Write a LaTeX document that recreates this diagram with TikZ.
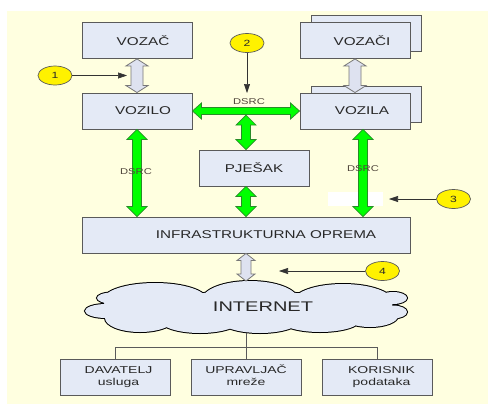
\documentclass[tikz,border=0pt]{standalone}
\usepackage{fontspec}
\setmainfont{Liberation Sans}
\usepackage{graphicx}
\usetikzlibrary{calc,shapes.geometric,arrows.meta}
\definecolor{bg}{RGB}{255,255,224}
\definecolor{boxfill}{RGB}{228,234,246}
\definecolor{boxline}{RGB}{90,90,90}
\definecolor{txt}{RGB}{40,40,40}
\definecolor{grn}{RGB}{0,255,0}
\definecolor{grnline}{RGB}{40,140,40}
\definecolor{garrow}{RGB}{222,226,240}
\definecolor{garrowline}{RGB}{120,120,120}
\definecolor{dsrctxt}{RGB}{80,70,60}
\newcommand\sx[2][1.35]{\scalebox{#1}[1]{#2}}
% style, from, to, shaft half width, head half width, head length
\newcommand\blockarrow[6]{%
  \draw[#1] (#2) -- ($(#2)!#6!(#3)!#5!90:(#3)$) -- ($(#2)!#6!(#3)!#4!90:(#3)$)
    -- ($(#3)!#6!(#2)!#4!-90:(#2)$) -- ($(#3)!#6!(#2)!#5!-90:(#2)$) -- (#3)
    -- ($(#3)!#6!(#2)!#5!90:(#2)$) -- ($(#3)!#6!(#2)!#4!90:(#2)$)
    -- ($(#2)!#6!(#3)!#4!-90:(#3)$) -- ($(#2)!#6!(#3)!#5!-90:(#3)$) -- cycle;}
% the cloud as a union of ellipses
\newcommand\cloudparts{%
  (155,300) ellipse [x radius=52, y radius=17]
  (250,300) ellipse [x radius=48, y radius=19]
  (343,302) ellipse [x radius=50, y radius=18]
  (112,298) ellipse [x radius=15, y radius=5.5]
  (106,311) ellipse [x radius=21, y radius=7]
  (393,298) ellipse [x radius=14, y radius=6]
  (393,312) ellipse [x radius=14, y radius=6.5]
  (140,318) ellipse [x radius=35, y radius=14]
  (200,320) ellipse [x radius=40, y radius=13]
  (260,320) ellipse [x radius=40, y radius=13]
  (320,320) ellipse [x radius=40, y radius=12]
  (370,316) ellipse [x radius=28, y radius=11]
  (250,310) ellipse [x radius=140, y radius=18]}
\tikzset{
  box/.style={draw=boxline, line width=0.9pt, fill=boxfill, minimum width=110pt,
    minimum height=36pt, inner sep=0pt, text=txt, font=\fontsize{11.3}{13}\selectfont},
  smallbox/.style={box, font=\fontsize{10}{11.5}\selectfont},
  numcirc/.style={ellipse, draw=boxline, fill=yellow, minimum width=34pt,
    minimum height=19pt, inner sep=0pt, line width=0.7pt, text=txt,
    font=\fontsize{9}{10}\selectfont},
  pointer/.style={draw=black!80, line width=0.6pt, -{Triangle[length=9pt,width=6pt]}},
  grayarrow/.style={fill=garrow, draw=garrowline, line width=0.8pt, line join=miter},
  greenarrow/.style={fill=grn, draw=grnline, line width=0.7pt, line join=miter},
  dsrc/.style={text=dsrctxt, font=\fontsize{8.4}{9}\selectfont, inner sep=0pt},
  tree/.style={draw=boxline, line width=0.9pt}
}
\begin{document}
\begin{tikzpicture}[x=1pt,y=-1pt]
\useasboundingbox (0,0) rectangle (488,405);
\fill[white] (0,0) rectangle (488,405);
\fill[bg] (7,11) rectangle (488,404);

% boxes
\node[box] (vozac) at (137,40.5) {\hspace*{12pt}\sx{VOZAČ}};
\node[box] (vozilo) at (137,111) {\hspace*{12pt}\sx{VOZILO}};
\node[box] (vozaciback) at (366.5,33) {};
\node[box] (vozaci) at (355,40.5) {\hspace*{14pt}\sx{VOZAČI}};
\node[box] (vozilaback) at (366.5,104) {};
\node[box] (vozila) at (355,111) {\hspace*{14pt}\sx{VOZILA}};
\node[box] (pjesak) at (254,168) {\sx{PJEŠAK}};
\node[box, minimum width=328pt] (infra) at (246,235) {\hspace*{40pt}\sx{INFRASTRUKTURNA OPREMA}};

% cloud
\draw[black, line width=2pt] \cloudparts;
\fill[boxfill] \cloudparts;
\coordinate (inettop) at (246,281);
\coordinate (inetbot) at (246,333);
\node[text=txt, font=\fontsize{14}{16}\selectfont, inner sep=0pt] (inettxt) at (263,307) {\sx[1.43]{INTERNET}};

% bottom boxes
\node[smallbox] (davatelj) at (115,377) {\hspace*{7pt}\sx[1.4]{\begin{tabular}{@{}c@{}}DAVATELJ\\usluga\end{tabular}}};
\node[smallbox] (upravljac) at (246,377) {\sx[1.4]{\begin{tabular}{@{}c@{}}UPRAVLJAČ\\mreže\end{tabular}}};
\node[smallbox] (korisnik) at (377.5,377) {\hspace*{8pt}\sx[1.4]{\begin{tabular}{@{}c@{}}KORISNIK\\podataka\end{tabular}}};

% tree
\draw[tree] (inetbot) -- (upravljac.north);
\draw[tree] (davatelj.north) -- ++(0,-11) -| (korisnik.north);

% gray double arrows
\blockarrow{grayarrow}{vozac.south}{vozilo.north}{6pt}{11pt}{7pt}
\blockarrow{grayarrow}{vozaci.south}{vozila.north}{6pt}{11pt}{7pt}
\blockarrow{grayarrow}{infra.south}{inettop}{5pt}{9pt}{7pt}

% green arrows
\coordinate (hmid) at ($(vozilo.east)!0.5!(vozila.west)$);
\blockarrow{greenarrow}{vozilo.east}{vozila.west}{3.5pt}{8pt}{9pt}
\coordinate (vtop) at ($(hmid)+(0,4)$);
\coordinate (vbot) at (pjesak.north -| hmid);
\blockarrow{greenarrow}{vtop}{vbot}{4.5pt}{10pt}{10pt}
\coordinate (ptop) at (pjesak.south -| hmid);
\coordinate (pbot) at (infra.north -| hmid);
\blockarrow{greenarrow}{ptop}{pbot}{4.5pt}{10pt}{10pt}
\coordinate (ltop) at (vozilo.south);
\coordinate (lbot) at (infra.north -| vozilo.south);
\blockarrow{greenarrow}{ltop}{lbot}{4.5pt}{10pt}{10pt}
\fill[white] (328,192) rectangle (383,206);
\coordinate (rtop) at ($(vozila.south)+(8,0)$);
\coordinate (rbot) at (infra.north -| rtop);
\blockarrow{greenarrow}{rtop}{rbot}{4.5pt}{10pt}{10pt}

% DSRC labels
\node[dsrc] (d1) at (249,102) {\sx[1.33]{DSRC}};
\node[dsrc] (d2) at (136,172) {\sx[1.33]{DSRC}};
\node[dsrc] (d3) at (363,169) {\sx[1.33]{DSRC}};

% numbered circles
\node[numcirc] (c1) at (55,75.5) {\sx{1}};
\node[numcirc] (c2) at (247,43) {\sx{2}};
\node[numcirc] (c3) at (453.5,199) {\sx{3}};
\node[numcirc] (c4) at (382.5,271) {\sx{4}};
\coordinate (t1) at (127,75.5);
\coordinate (t2) at (247,93);
\coordinate (t3) at (389,199);
\coordinate (t4) at (279,271);
\draw[pointer] (c1) -- (t1);
\draw[pointer] (c2) -- (t2);
\draw[pointer] (c3) -- (t3);
\draw[pointer] (c4) -- (t4);
\end{tikzpicture}
\end{document}
